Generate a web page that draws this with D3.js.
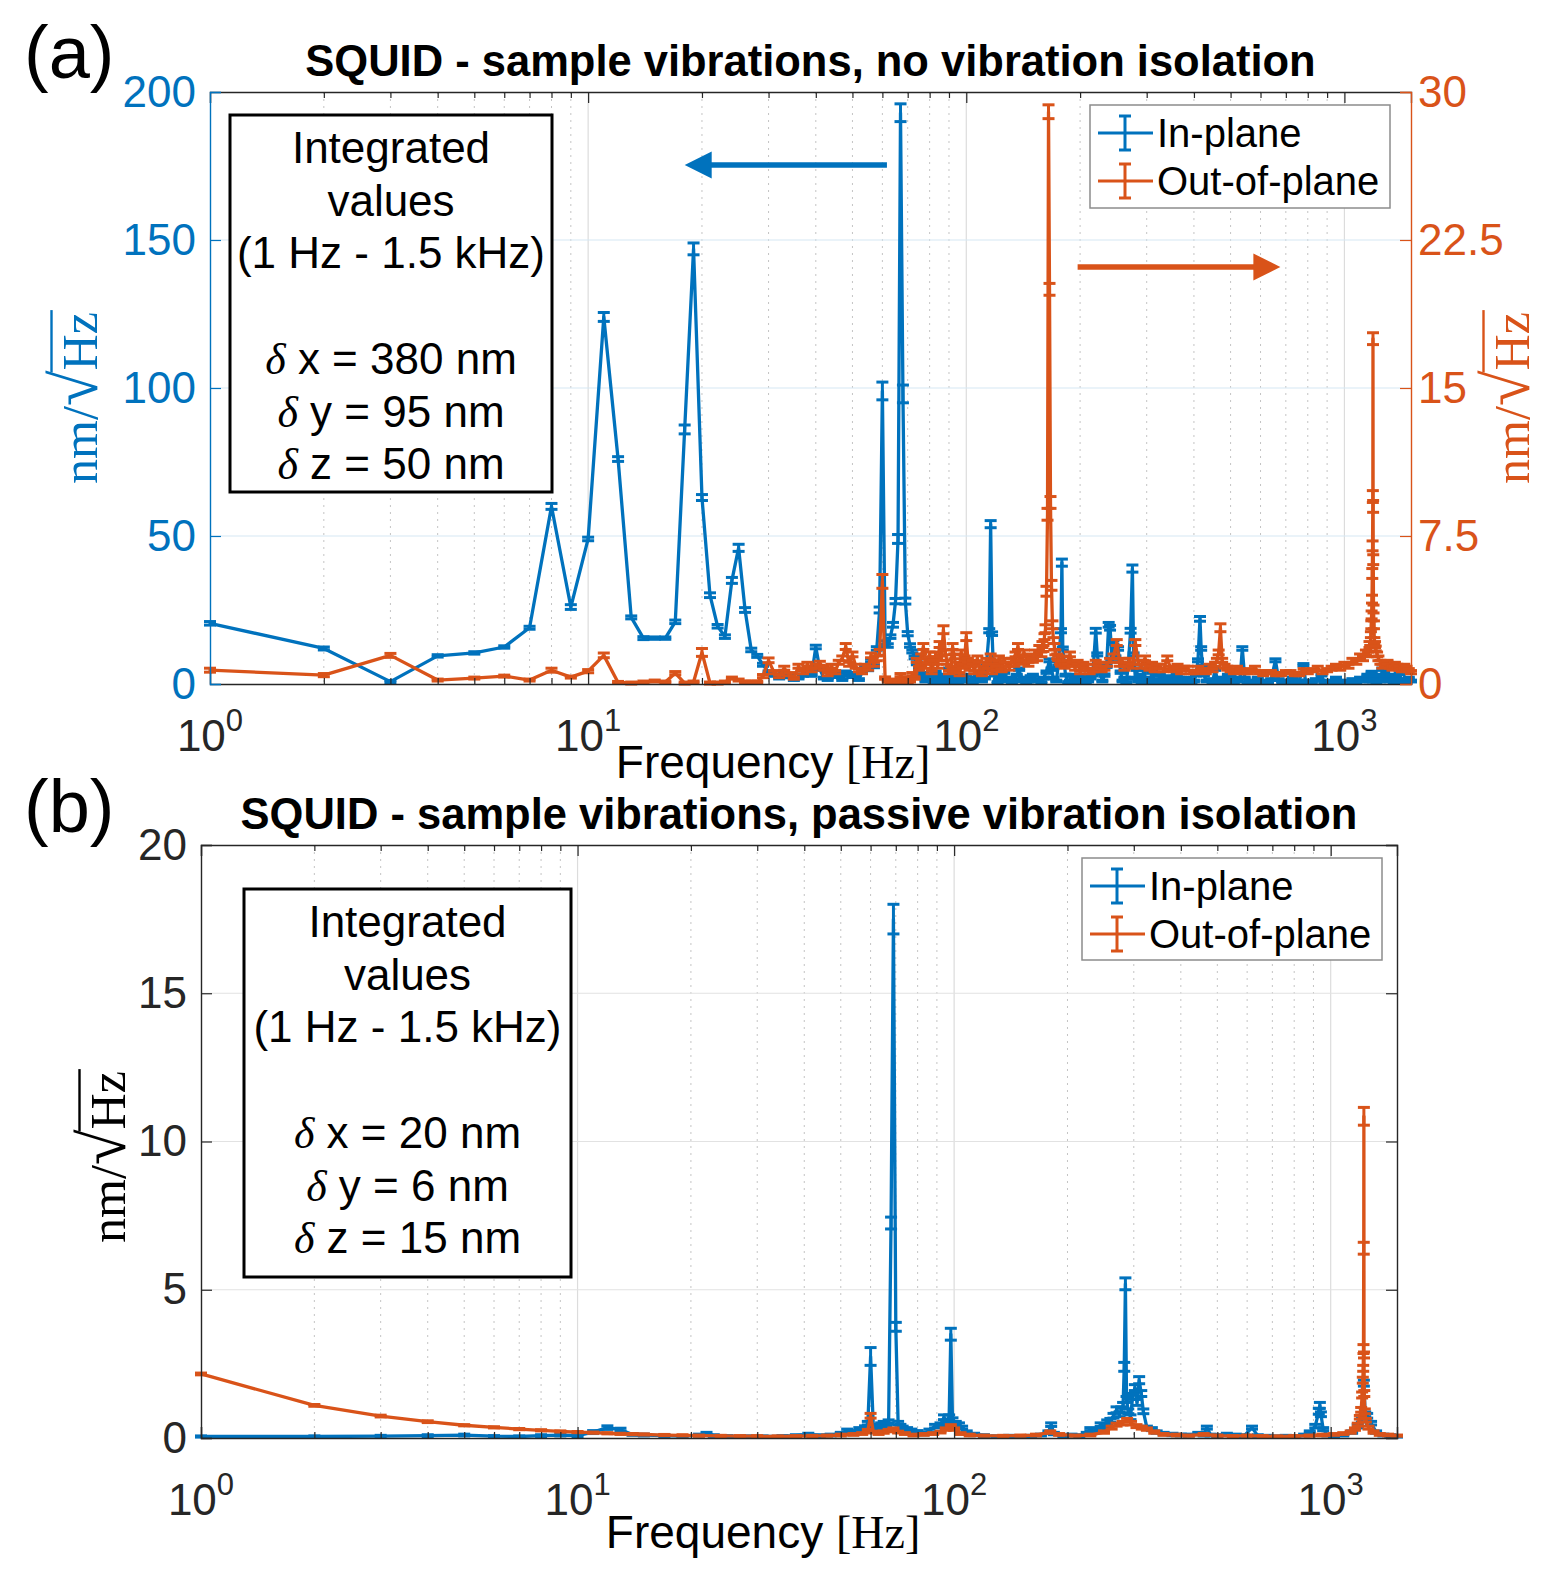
<!DOCTYPE html>
<html>
<head>
<meta charset="utf-8">
<script src="https://cdn.jsdelivr.net/npm/d3@7"></script>
<style>
  body { margin: 0; background: #fff; }
</style>
</head>
<body>
<svg id="chart" width="1555" height="1576"></svg>
<script>
// ---- data: [frequency Hz, amplitude, error] ----

// (a) no vibration isolation, in-plane (left axis, 0-200)
const inPlaneA = [
  [1,20.5,0.6],[2,12,0.5],[3,0.8,0.4],[4,9.5,0.4],[5,10.5,0.4],[6,12.5,0.4],[7,19,0.5],[8,60,1],[9,26,0.8],
  [10,49,0.6],[11,124,1.5],[12,76,0.8],[13,22.5,0.5],[14,15.5,0.5],[15,15.5,0.4],[16,15.5,0.4],[17,21,0.6],
  [18,86,1.5],[19,147,2],[20,63,1],[21,30,0.8],[22,19.5,0.6],[23,16,0.6],[24,35,1],[25,46,1.2],[26,25,0.8],
  [27,11.5,0.6],[28,9.5,0.5],[29,6.5,0.5],[30,4,0.4],[31,3,0.4],[32,2,0.3],[33,3.5,0.4],[34,2.5,0.4],
  [35,1.5,0.3],[36,2,0.3],[37,3,0.4],[38,4.5,0.5],[39,3,0.4],[40,12.5,0.6],[41,5,0.4],[42,2,0.3],
  [43,1.5,0.3],[44,3,0.3],[45,4,0.4],[46,2.5,0.3],[47,1.5,0.3],[48,4,0.4],[49,3,0.3],[50,2.5,0.3],
  [51,3.5,0.4],[52,1.5,0.3],[53,4,0.4],[54,5.5,0.5],[55,5,0.5],[56,8,0.5],[57,6,0.5],[58,12,0.6],
  [59,25,1],[60,99,3],[61,14,0.6],[62,13,0.6],[63,16,0.6],[64,20,0.8],[65,28,0.9],[66,49,1.5],
  [67,193,3],[68,98,3],[69,28,1],[70,17,0.7],[71,13,0.6],[72,11,0.5],[73,9,0.5],[74,7,0.5],[75,5,0.4],
  [76,2.5,0.3],[77,3.5,0.4],[78,1,0.3],[79,2,0.3],[80,3,0.3],[81,1.5,0.3],[82,0.5,0.3],[83,4,0.4],
  [84,1,0.3],[85,2.5,0.3],[86,0.5,0.3],[87,3,0.3],[88,1.5,0.3],[89,1,0.3],[90,5,0.4],[91,2,0.3],
  [92,0.5,0.3],[93,2,0.3],[94,3,0.3],[95,0.5,0.3],[96,1,0.3],[98,2,0.3],[100,3,0.3],[101,1,0.3],
  [103,1.5,0.3],[104,0.5,0.3],[106,2,0.3],[108,3,0.3],[110,1,0.3],[112,2,0.3],[113,6,0.4],[115,18,0.7],
  [116,54,1.2],[117,17,0.6],[118,5,0.4],[119,3,0.3],[121,0.5,0.3],[122,1.5,0.3],[124,2.5,0.3],[126,4,0.4],
  [128,1,0.3],[130,2,0.3],[132,0.5,0.3],[134,1.5,0.3],[136,3,0.3],[138,5,0.4],[140,1,0.3],[142,2,0.3],
  [144,0.5,0.3],[146,1,0.3],[148,2.5,0.3],[150,3,0.3],[152,1,0.3],[155,1.5,0.3],[158,0.5,0.3],[160,2,0.3],
  [163,4,0.4],[166,8,0.5],[168,5,0.4],[170,2,0.3],[173,1,0.3],
  [175,6,0.4],[178,18,0.7],[179,41,1.2],[180,12,0.5],[183,3,0.3],[186,0.5,0.3],[188,1,0.3],[190,3,0.3],
  [193,2.5,0.3],[196,0.5,0.3],[198,1,0.3],[201,3,0.3],
  [204,2,0.3],[207,0.5,0.3],[210,1,0.3],[213,2,0.3],[216,3,0.3],[220,18,0.8],[222,10,0.5],[226,4,0.4],
  [229,1,0.3],[232,3,0.4],[235,6,0.4],[238,20,0.8],
  [240,19,0.8],[243,8,0.5],[245,14,0.6],[248,9,0.5],[252,12,0.6],[256,4,0.4],[259,1,0.3],[262,2,0.3],
  [265,0.5,0.3],[268,6,0.4],[272,18,0.8],
  [275,39,1.2],[277,10,0.5],[280,2,0.3],[282,5,0.4],[285,1,0.3],[288,3,0.3],[291,0.5,0.3],[295,5,0.4],
  [298,1,0.3],[302,2,0.3],[306,0.5,0.3],[310,4,0.4],[314,1,0.3],[318,1.5,0.3],[321,0.5,0.3],
  [325,3,0.3],[330,0.5,0.3],[335,1,0.3],[340,2,0.3],[345,2.5,0.3],[350,0.5,0.3],[355,1,0.3],[360,3,0.3],
  [365,2,0.3],[370,0.5,0.3],[375,1,0.3],[382,2,0.3],[388,1.5,0.3],[394,0.5,0.3],[400,1,0.3],
  [405,3,0.3],[410,8,0.5],[415,22,0.8],[418,12,0.6],[421,6,0.4],[425,3,0.3],[432,1,0.3],[440,1.5,0.3],
  [448,0.5,0.3],[455,5,0.4],[462,1,0.3],[470,2,0.3],[478,0.5,0.3],[485,1,0.3],[492,3,0.3],
  [500,2.5,0.3],[510,0.5,0.3],[520,1,0.3],[530,2,0.3],[537,12,0.6],[545,2,0.3],[555,0.5,0.3],[565,1,0.3],
  [578,0.5,0.3],[590,2,0.3],[602,0.5,0.3],[615,1,0.3],[628,0.5,0.3],[640,1.5,0.3],
  [657,8,0.5],[670,1.5,0.3],[685,0.5,0.3],[700,1,0.3],[715,0.5,0.3],[730,2,0.3],[745,0.5,0.3],[760,1,0.3],
  [779,6.5,0.4],[790,0.5,0.3],[800,1,0.3],[820,0.5,0.3],[840,1.5,0.3],
  [870,3,0.3],[885,0.5,0.3],[900,1,0.3],[925,0.5,0.3],[950,2,0.3],[975,0.5,0.3],[1000,1,0.3],
  [1025,0.5,0.3],[1050,1.5,0.3],[1075,0.5,0.3],[1100,2,0.3],[1125,1,0.3],[1150,3,0.3],[1165,1,0.3],
  [1180,4,0.3],[1190,1,0.3],[1200,2,0.3],[1215,0.5,0.3],[1230,3,0.3],[1245,1,0.3],[1260,5,0.4],
  [1280,2,0.3],[1300,7,0.4],[1315,1,0.3],[1330,3,0.3],[1350,0.5,0.3],[1370,2,0.3],[1385,0.5,0.3],
  [1400,3.5,0.3],[1420,0.5,0.3],[1440,1.5,0.3],[1460,0.5,0.3],[1480,2,0.3],[1500,1,0.3]
];

// (a) no vibration isolation, out-of-plane (right axis, 0-30)
const outPlaneA = [
  [1,0.7,0.1],[2,0.45,0.08],[3,1.45,0.1],[4,0.2,0.05],[5,0.3,0.05],[6,0.4,0.05],[7,0.2,0.05],[8,0.7,0.1],
  [9,0.35,0.05],[10,0.65,0.08],[11,1.45,0.12],[12,0.08,0.05],[13,0.05,0.05],[14,0.1,0.05],[15,0.15,0.05],
  [16,0.1,0.05],[17,0.55,0.08],[18,0.05,0.05],[19,0.1,0.05],[20,1.6,0.2],[21,0.05,0.05],[22,0.05,0.05],
  [23,0.1,0.05],[24,0.3,0.05],[25,0.2,0.05],[26,0.1,0.05],[27,0.1,0.05],[28,0.1,0.05],[29,0.4,0.08],
  [30,1.2,0.12],[31,0.6,0.08],[32,0.4,0.08],[33,0.8,0.1],[34,0.5,0.08],[35,0.3,0.06],[36,0.9,0.1],
  [37,0.6,0.08],[38,1.0,0.1],[39,0.7,0.08],[40,0.9,0.1],[41,1.05,0.1],[42,0.8,0.1],[43,0.5,0.08],
  [44,0.9,0.1],[45,0.6,0.08],[46,1.1,0.1],[47,1.3,0.12],[48,1.9,0.15],[49,1.0,0.1],[50,1.5,0.12],
  [51,0.9,0.1],[52,0.7,0.08],[53,0.6,0.08],[54,0.9,0.1],[55,0.8,0.1],[56,1.45,0.12],[57,1.0,0.1],
  [58,1.3,0.12],[59,1.6,0.15],[60,5.2,0.35],[61,0.3,0.06],[62,0.15,0.05],[63,0.1,0.05],[64,0.15,0.05],
  [65,0.2,0.05],[66,0.1,0.05],[67,0.45,0.08],[68,0.3,0.05],[69,0.2,0.05],[70,0.1,0.05],[71,0.15,0.05],
  [72,0.5,0.08],[73,0.3,0.06],[74,1.2,0.1],[75,0.8,0.1],[76,1.4,0.12],[77,1.9,0.15],[78,0.9,0.1],
  [79,1.2,0.12],[80,1.5,0.12],[81,0.6,0.08],[82,1.1,0.1],[83,1.5,0.12],[84,0.9,0.1],[85,2.0,0.15],
  [86,1.3,0.12],[87,2.75,0.2],[88,1.6,0.12],[89,1.1,0.1],[90,0.6,0.08],[91,0.8,0.1],[92,1.9,0.15],
  [93,1.4,0.12],[94,0.7,0.08],[95,1.0,0.1],[96,0.5,0.08],[97,1.6,0.12],[98,0.9,0.1],[99,1.3,0.12],
  [100,2.4,0.2],[101,1.2,0.1],[102,0.8,0.1],[104,1.1,0.1],[105,0.6,0.08],[107,1.3,0.12],[108,1.0,0.1],
  [110,0.5,0.08],[111,0.7,0.08],[113,1.2,0.1],[114,0.9,0.1],[116,1.4,0.12],[117,0.6,0.08],[119,1.1,0.1],
  [120,0.8,0.1],[122,1.3,0.12],[124,0.7,0.08],[126,1.2,0.1],[128,1.0,0.1],[130,0.8,0.1],[132,1.2,0.1],
  [134,1.0,0.1],[135,1.5,0.12],[137,1.9,0.15],[138,1.3,0.12],[140,1.1,0.1],[142,1.6,0.12],[144,1.3,0.12],
  [146,1.0,0.1],[148,1.4,0.12],[150,1.2,0.1],[152,1.6,0.12],[154,1.3,0.12],[156,1.8,0.15],[158,1.5,0.12],
  [159,2.0,0.15],[160,1.8,0.15],[161,2.4,0.15],[162,2.8,0.2],[163,4.7,0.25],[164,8.6,0.3],[165,29,0.35],
  [166,20,0.3],[167,9.2,0.3],[168,5.0,0.25],[169,3.0,0.2],[170,2.2,0.15],[171,1.9,0.15],[172,1.6,0.12],
  [174,1.4,0.12],[175,1.3,0.12],[177,1.1,0.1],[178,1.0,0.1],[180,1.3,0.12],[182,0.9,0.1],[185,1.1,0.1],
  [188,1.5,0.12],[191,1.0,0.1],[194,0.8,0.1],[197,1.1,0.1],[200,0.6,0.08],[204,1.0,0.1],[208,0.9,0.1],
  [212,0.6,0.08],[216,0.7,0.08],[220,1.1,0.1],[224,1.0,0.1],[228,0.7,0.08],[232,0.8,0.1],[236,1.0,0.1],
  [240,1.2,0.1],[245,1.4,0.12],[250,2.1,0.15],[255,1.0,0.1],[258,1.2,0.1],[262,0.8,0.1],[266,1.0,0.1],
  [270,1.2,0.1],[275,0.9,0.1],[280,2.1,0.15],[285,1.1,0.1],[290,0.9,0.1],[293,1.1,0.1],[297,1.3,0.12],
  [301,0.9,0.1],[305,0.8,0.1],[310,1.0,0.1],[315,0.7,0.08],[320,0.9,0.1],[325,0.9,0.1],[332,0.7,0.08],
  [340,1.3,0.12],[347,0.8,0.1],[355,0.7,0.08],[362,0.9,0.1],[370,0.6,0.08],[377,0.8,0.1],[385,0.8,0.1],
  [392,0.6,0.08],[400,0.6,0.08],[410,0.8,0.1],[420,0.7,0.08],[430,0.6,0.08],[440,0.9,0.1],[448,0.7,0.08],
  [455,1.0,0.1],[460,1.2,0.1],[465,1.6,0.12],[470,2.85,0.2],[475,1.2,0.1],[482,0.9,0.1],[490,0.8,0.1],
  [500,0.7,0.08],[510,0.6,0.08],[520,0.8,0.1],[530,0.7,0.08],[542,0.6,0.08],[555,0.6,0.08],[567,0.7,0.08],
  [580,0.8,0.1],[595,0.6,0.08],[610,0.5,0.08],[625,0.6,0.08],[640,0.6,0.08],[660,0.5,0.08],[680,0.5,0.08],
  [700,0.6,0.08],[720,0.6,0.08],[740,0.5,0.08],[760,0.5,0.08],[780,0.7,0.08],[800,0.6,0.08],[825,0.7,0.08],
  [850,0.8,0.1],[875,0.6,0.08],[900,0.7,0.08],[925,0.8,0.1],[950,0.9,0.1],[975,0.8,0.1],[1000,1.0,0.1],
  [1025,0.9,0.1],[1050,1.2,0.1],[1075,1.1,0.1],[1100,1.4,0.12],[1120,1.3,0.12],[1140,1.6,0.12],
  [1155,1.5,0.12],[1165,2.0,0.15],[1170,1.8,0.15],[1175,2.5,0.15],[1178,3.0,0.2],[1180,3.5,0.2],
  [1183,4.3,0.2],[1185,5.6,0.25],[1187,7.0,0.25],[1189,9.5,0.3],[1190,17.5,0.3],[1191,9.0,0.3],
  [1192,6.3,0.25],[1194,3.8,0.2],[1197,3.0,0.2],[1200,2.2,0.15],[1205,2.0,0.15],[1210,1.8,0.12],
  [1220,1.5,0.12],[1230,1.3,0.12],[1245,1.1,0.1],[1260,0.9,0.1],[1280,1.0,0.1],[1300,1.1,0.1],
  [1320,0.9,0.1],[1340,0.8,0.1],[1360,1.0,0.1],[1380,0.9,0.1],[1400,0.8,0.1],[1420,0.7,0.08],
  [1440,0.9,0.1],[1460,0.8,0.1],[1480,0.7,0.08],[1500,0.6,0.08]
];

// (b) passive vibration isolation, in-plane (0-20)
const inPlaneB = [
  [1,0.05,0.02],[2,0.05,0.02],[3,0.06,0.03],[4,0.08,0.03],[5,0.1,0.03],[6,0.06,0.02],[7,0.05,0.02],
  [8,0.08,0.03],[9,0.1,0.03],[10,0.08,0.03],[11,0.2,0.05],[12,0.35,0.06],[13,0.28,0.05],[14,0.12,0.03],
  [15,0.1,0.03],[17,0.08,0.03],[19,0.06,0.02],[21,0.1,0.03],[22,0.15,0.04],[23,0.08,0.03],[25,0.06,0.02],
  [28,0.05,0.02],[31,0.05,0.02],[35,0.06,0.02],[38,0.08,0.03],[41,0.12,0.04],[44,0.08,0.03],[47,0.1,0.03],
  [50,0.15,0.04],[52,0.25,0.05],[54,0.2,0.05],[56,0.3,0.05],[58,0.35,0.06],[59,0.5,0.06],[60,2.75,0.3],
  [61,0.4,0.06],[62,0.3,0.05],[63,0.35,0.06],[64,0.45,0.06],[65,0.5,0.06],[66,0.45,0.06],[67,0.55,0.06],
  [68,7.25,0.2],[69,17.5,0.5],[70,3.75,0.15],[71,0.5,0.06],[72,0.4,0.06],[73,0.35,0.05],[75,0.3,0.05],
  [77,0.25,0.05],[80,0.2,0.05],[83,0.15,0.04],[86,0.25,0.05],[89,0.4,0.06],[92,0.45,0.06],[94,0.7,0.08],
  [96,0.5,0.06],[97,0.7,0.08],[98,3.5,0.2],[99,0.6,0.08],[101,0.5,0.06],[103,0.45,0.06],[105,0.35,0.05],
  [108,0.2,0.04],[113,0.12,0.04],[120,0.08,0.03],[130,0.05,0.02],[140,0.06,0.03],[150,0.05,0.02],
  [160,0.06,0.03],[170,0.1,0.03],[178,0.2,0.04],[181,0.45,0.06],[184,0.15,0.04],[195,0.06,0.03],
  [205,0.1,0.03],[215,0.08,0.03],[225,0.15,0.04],[230,0.3,0.05],[235,0.2,0.04],[245,0.45,0.06],
  [250,0.3,0.05],[255,0.55,0.06],[260,0.6,0.06],[265,0.75,0.08],[270,0.95,0.1],[275,0.8,0.08],
  [278,0.95,0.1],[281,1.1,0.1],[283,2.4,0.15],[285,5.2,0.2],[287,1.3,0.1],[290,0.9,0.08],[294,0.7,0.08],
  [298,1.4,0.1],[302,1.7,0.1],[306,1.2,0.1],[310,1.95,0.12],[314,1.5,0.1],[318,0.9,0.08],[325,0.35,0.05],
  [335,0.3,0.05],[345,0.2,0.04],[360,0.15,0.04],[380,0.12,0.04],[400,0.1,0.03],[420,0.1,0.03],
  [445,0.15,0.04],[460,0.1,0.03],[469,0.35,0.05],[480,0.1,0.03],[500,0.08,0.03],[530,0.12,0.04],
  [560,0.1,0.03],[590,0.08,0.03],[618,0.35,0.05],[640,0.08,0.03],[680,0.06,0.03],[720,0.05,0.02],
  [760,0.06,0.03],[800,0.05,0.02],[850,0.1,0.03],[880,0.2,0.04],[910,0.4,0.06],[930,0.9,0.1],
  [936,1.1,0.1],[942,0.8,0.08],[955,0.3,0.05],[980,0.1,0.03],[1020,0.08,0.03],[1080,0.1,0.03],
  [1140,0.2,0.04],[1180,0.4,0.06],[1210,0.6,0.06],[1225,1.85,0.1],[1235,0.8,0.08],[1250,0.75,0.08],
  [1280,0.5,0.06],[1320,0.2,0.04],[1380,0.1,0.03],[1440,0.08,0.03],[1500,0.05,0.02]
];

// (b) passive vibration isolation, out-of-plane (0-20)
const outPlaneB = [
  [1,2.16,0.03],[2,1.1,0.03],[3,0.74,0.03],[4,0.55,0.03],[5,0.43,0.02],[6,0.36,0.02],[7,0.3,0.02],
  [8,0.26,0.02],[9,0.22,0.02],[10,0.2,0.02],[11,0.18,0.02],[12,0.16,0.02],[13,0.14,0.02],[14,0.13,0.02],
  [15,0.12,0.02],[17,0.1,0.02],[19,0.09,0.02],[21,0.08,0.02],[24,0.07,0.02],[27,0.06,0.02],[30,0.06,0.02],
  [34,0.05,0.02],[38,0.06,0.02],[42,0.07,0.02],[46,0.08,0.02],[50,0.1,0.03],[54,0.12,0.03],[57,0.15,0.03],
  [59,0.25,0.04],[60,0.75,0.08],[61,0.2,0.03],[63,0.15,0.03],[65,0.2,0.04],[67,0.25,0.04],[69,0.3,0.04],
  [71,0.2,0.03],[74,0.15,0.03],[78,0.1,0.03],[83,0.12,0.03],[88,0.15,0.03],[92,0.2,0.03],[95,0.3,0.04],
  [98,0.4,0.05],[100,0.3,0.04],[104,0.15,0.03],[110,0.1,0.03],[120,0.08,0.02],[135,0.07,0.02],
  [150,0.08,0.02],[165,0.1,0.03],[180,0.2,0.04],[190,0.12,0.03],[210,0.08,0.02],[230,0.1,0.03],
  [250,0.2,0.04],[262,0.35,0.05],[270,0.45,0.05],[280,0.5,0.06],[288,0.6,0.06],[295,0.5,0.06],
  [305,0.4,0.05],[315,0.35,0.05],[325,0.3,0.04],[340,0.2,0.04],[360,0.12,0.03],[390,0.1,0.03],
  [420,0.08,0.02],[460,0.12,0.03],[500,0.08,0.02],[550,0.06,0.02],[600,0.08,0.02],[660,0.06,0.02],
  [720,0.05,0.02],[800,0.06,0.02],[880,0.08,0.02],[950,0.1,0.03],[1020,0.12,0.03],[1080,0.15,0.03],
  [1130,0.2,0.04],[1160,0.3,0.04],[1180,0.45,0.05],[1195,0.7,0.06],[1205,0.95,0.08],[1212,1.45,0.1],
  [1217,1.95,0.1],[1220,2.35,0.1],[1222,3.0,0.15],[1224,6.4,0.2],[1225,10.85,0.3],[1226,2.8,0.1],
  [1228,1.5,0.1],[1232,0.9,0.08],[1240,0.6,0.06],[1260,0.35,0.05],[1300,0.2,0.04],[1350,0.12,0.03],
  [1420,0.1,0.03],[1500,0.08,0.02]
];

const freqDomain = [1, 1500];
const yTicksA = [0, 50, 100, 150, 200];
const y2TicksA = [0, 7.5, 15, 22.5, 30];
const yTicksB = [0, 5, 10, 15, 20];
const legendLabels = ["In-plane", "Out-of-plane"];
const titleA = "SQUID - sample vibrations, no vibration isolation";
const titleB = "SQUID - sample vibrations, passive vibration isolation";
const noteA = ["Integrated", "values", "(1 Hz - 1.5 kHz)", "", "δ x = 380 nm", "δ y = 95 nm", "δ z = 50 nm"];
const noteB = ["Integrated", "values", "(1 Hz - 1.5 kHz)", "", "δ x = 20 nm", "δ y = 6 nm", "δ z = 15 nm"];

const BLUE = "#0072BD";
const ORANGE = "#D95319";
const AX = "#262626";
const SANS = "'Liberation Sans', Arial, Helvetica, sans-serif";
const SERIF = "'Liberation Serif', 'DejaVu Serif', serif";
const TICK_FONT = 44;

const svg = d3.select("#chart");

function drawUnitLabel(g, cx, cy, color, size)
{
    // nm/sqrt(Hz), rotated, reading bottom to top
    const lab = g.append("g").attr("transform", `translate(${cx},${cy}) rotate(-90)`);
    const t = lab.append("text")
        .attr("font-family", SERIF)
        .attr("font-size", size)
        .attr("fill", color);
    const a = t.append("tspan").text("nm/");
    const r = t.append("tspan").attr("font-size", size * 1.3).text("√");
    const h = t.append("tspan").text("Hz");
    const wa = a.node().getComputedTextLength();
    const wr = r.node().getComputedTextLength();
    const wh = h.node().getComputedTextLength();
    const total = wa + wr + wh;
    const base = size * 0.33;
    t.attr("x", -total / 2).attr("y", base);
    lab.append("line")
        .attr("x1", -total / 2 + wa + wr - 2)
        .attr("x2", total / 2 + 2)
        .attr("y1", base - size * 0.9)
        .attr("y2", base - size * 0.9)
        .attr("stroke", color)
        .attr("stroke-width", 2.4);
}

function drawPanel(p)
{
    const g = svg.append("g");

    const x = d3.scaleLog().domain(freqDomain).range([p.left, p.right]);
    const y = d3.scaleLinear().domain([0, p.yTicks[p.yTicks.length - 1]]).range([p.bottom, p.top]);
    const y2 = p.y2Ticks
        ? d3.scaleLinear().domain([0, p.y2Ticks[p.y2Ticks.length - 1]]).range([p.bottom, p.top])
        : y;

    const allTicks = x.ticks();
    const isMajor = d => Math.abs(Math.log10(d) - Math.round(Math.log10(d))) < 1e-9;

    // grid
    const grid = g.append("g");
    grid.selectAll("line.minor")
        .data(allTicks.filter(d => !isMajor(d)))
        .join("line")
        .attr("x1", d => x(d)).attr("x2", d => x(d))
        .attr("y1", p.top).attr("y2", p.bottom)
        .attr("stroke", "#c4c4c4")
        .attr("stroke-width", 1)
        .attr("stroke-dasharray", "2,5");
    grid.selectAll("line.major")
        .data(allTicks.filter(d => isMajor(d) && d > 1))
        .join("line")
        .attr("x1", d => x(d)).attr("x2", d => x(d))
        .attr("y1", p.top).attr("y2", p.bottom)
        .attr("stroke", "#dcdcdc")
        .attr("stroke-width", 1.2);
    grid.selectAll("line.h")
        .data(p.yTicks.slice(1, -1))
        .join("line")
        .attr("x1", p.left).attr("x2", p.right)
        .attr("y1", d => y(d)).attr("y2", d => y(d))
        .attr("stroke", p.hGridColor)
        .attr("stroke-width", 1.2);

    // series
    const series = [
        { data: p.inPlane, color: BLUE, scale: y },
        { data: p.outPlane, color: ORANGE, scale: y2 }
    ];
    const capW = 6;
    series.forEach(s =>
    {
        const sg = g.append("g");
        sg.append("path")
            .datum(s.data)
            .attr("fill", "none")
            .attr("stroke", s.color)
            .attr("stroke-width", 3.3)
            .attr("stroke-linejoin", "round")
            .attr("d", d3.line().x(d => x(d[0])).y(d => s.scale(d[1])));
        const eb = sg.selectAll("g.eb")
            .data(s.data)
            .join("g")
            .attr("stroke", s.color)
            .attr("stroke-width", 3);
        eb.append("line")
            .attr("x1", d => x(d[0])).attr("x2", d => x(d[0]))
            .attr("y1", d => s.scale(Math.max(0, d[1] - d[2])))
            .attr("y2", d => s.scale(d[1] + d[2]));
        eb.append("line")
            .attr("x1", d => x(d[0]) - capW).attr("x2", d => x(d[0]) + capW)
            .attr("y1", d => s.scale(d[1] + d[2])).attr("y2", d => s.scale(d[1] + d[2]));
        eb.append("line")
            .attr("x1", d => x(d[0]) - capW).attr("x2", d => x(d[0]) + capW)
            .attr("y1", d => s.scale(d[1] - d[2])).attr("y2", d => s.scale(d[1] - d[2]));
    });

    // axes
    const tickLen = 11;
    const styleAxis = (sel, color) =>
    {
        sel.select(".domain").attr("stroke", color).attr("stroke-width", 1.4);
        sel.selectAll(".tick line").attr("stroke", color).attr("stroke-width", 1.2);
        sel.selectAll(".tick text")
            .attr("fill", color)
            .attr("font-family", SANS)
            .attr("font-size", TICK_FONT);
    };

    const xb = g.append("g")
        .attr("transform", `translate(0,${p.bottom})`)
        .call(d3.axisBottom(x).tickValues(allTicks).tickFormat("").tickSizeOuter(0).tickSize(-tickLen));
    xb.selectAll(".tick line").attr("y2", d => isMajor(d) ? -tickLen : -tickLen * 0.55);
    styleAxis(xb, AX);

    const xt = g.append("g")
        .attr("transform", `translate(0,${p.top})`)
        .call(d3.axisTop(x).tickValues(allTicks).tickFormat("").tickSizeOuter(0).tickSize(-tickLen));
    xt.selectAll(".tick line").attr("y2", d => isMajor(d) ? tickLen : tickLen * 0.55);
    styleAxis(xt, AX);

    const yl = g.append("g")
        .attr("transform", `translate(${p.left},0)`)
        .call(d3.axisLeft(y).tickValues(p.yTicks).tickFormat(d => d).tickSizeOuter(0).tickSize(-tickLen).tickPadding(14));
    styleAxis(yl, p.leftColor);

    const yr = g.append("g")
        .attr("transform", `translate(${p.right},0)`)
        .call(d3.axisRight(y2).tickValues(p.y2Ticks || p.yTicks).tickFormat(d => d).tickSizeOuter(0).tickSize(-tickLen).tickPadding(7));
    styleAxis(yr, p.rightColor);
    if (!p.y2Ticks)
        yr.selectAll(".tick text").remove();

    // x tick labels 10^n
    g.selectAll("text.xl")
        .data(allTicks.filter(isMajor))
        .join("text")
        .attr("x", d => x(d))
        .attr("y", p.xLabelY)
        .attr("text-anchor", "middle")
        .attr("font-family", SANS)
        .attr("font-size", TICK_FONT)
        .attr("fill", AX)
        .each(function(d)
        {
            const t = d3.select(this);
            t.append("tspan").text("10");
            t.append("tspan").attr("font-size", 31).attr("dy", -20).text(Math.round(Math.log10(d)));
        });

    // x axis title
    const xt2 = g.append("text")
        .attr("x", p.xTitleX)
        .attr("y", p.xTitleY)
        .attr("text-anchor", "middle")
        .attr("font-size", 46)
        .attr("fill", "#000");
    xt2.append("tspan").attr("font-family", SANS).text("Frequency ");
    xt2.append("tspan").attr("font-family", SERIF).text("[Hz]");

    // y axis titles
    drawUnitLabel(g, p.yTitleX, p.yTitleY, p.leftLabelColor, 50);
    if (p.y2Ticks)
        drawUnitLabel(g, p.y2TitleX, p.yTitleY, ORANGE, 50);

    // title
    g.append("text")
        .attr("x", (p.left + p.right) / 2)
        .attr("y", p.titleY)
        .attr("text-anchor", "middle")
        .attr("font-family", SANS)
        .attr("font-weight", "bold")
        .attr("font-size", 43.5)
        .attr("fill", "#000")
        .text(p.title);

    // panel letter
    g.append("text")
        .attr("x", 24)
        .attr("y", p.letterY)
        .attr("font-family", SANS)
        .attr("font-size", 74)
        .attr("fill", "#000")
        .text(p.letter);

    // annotation box
    const nb = p.noteBox;
    g.append("rect")
        .attr("x", nb.x).attr("y", nb.y).attr("width", nb.w).attr("height", nb.h)
        .attr("fill", "#fff")
        .attr("stroke", "#000")
        .attr("stroke-width", 3);
    p.note.forEach((line, i) =>
    {
        if (!line)
            return;
        const t = g.append("text")
            .attr("x", nb.x + nb.w / 2)
            .attr("y", nb.y + 48 + i * 52.7)
            .attr("text-anchor", "middle")
            .attr("font-family", SANS)
            .attr("font-size", 44)
            .attr("fill", "#000");
        if (line.startsWith("δ"))
        {
            t.append("tspan").attr("font-family", SERIF).attr("font-style", "italic").text("δ");
            t.append("tspan").text(line.slice(1));
        }
        else
            t.text(line);
    });

    // legend
    const lg = p.legend;
    g.append("rect")
        .attr("x", lg.x).attr("y", lg.y).attr("width", lg.w).attr("height", lg.h)
        .attr("fill", "#fff")
        .attr("stroke", "#8c8c8c")
        .attr("stroke-width", 1.5);
    legendLabels.forEach((lab, i) =>
    {
        const cy = lg.y + 28 + i * 48;
        const col = i === 0 ? BLUE : ORANGE;
        const ig = g.append("g").attr("stroke", col).attr("stroke-width", 3);
        ig.append("line").attr("x1", lg.x + 8).attr("x2", lg.x + 63).attr("y1", cy).attr("y2", cy);
        ig.append("line").attr("x1", lg.x + 35).attr("x2", lg.x + 35).attr("y1", cy - 17).attr("y2", cy + 17);
        ig.append("line").attr("x1", lg.x + 29).attr("x2", lg.x + 41).attr("y1", cy - 17).attr("y2", cy - 17);
        ig.append("line").attr("x1", lg.x + 29).attr("x2", lg.x + 41).attr("y1", cy + 17).attr("y2", cy + 17);
        g.append("text")
            .attr("x", lg.x + 67)
            .attr("y", cy + 14)
            .attr("font-family", SANS)
            .attr("font-size", 40)
            .attr("fill", "#000")
            .text(lab);
    });

    return { x, y, y2 };
}

// panel (a)
const pa = drawPanel({
    left: 210, right: 1411, top: 92, bottom: 684,
    yTicks: yTicksA, y2Ticks: y2TicksA,
    leftColor: BLUE, rightColor: ORANGE, leftLabelColor: BLUE,
    hGridColor: "#d6e7f3",
    inPlane: inPlaneA, outPlane: outPlaneA,
    xLabelY: 751, xTitleX: 773, xTitleY: 778,
    yTitleX: 80, y2TitleX: 1512, yTitleY: 398,
    titleY: 76, title: titleA, letter: "(a)", letterY: 78,
    note: noteA, noteBox: { x: 230, y: 115, w: 322, h: 377 },
    legend: { x: 1090, y: 105, w: 300, h: 103 }
});

// direction arrows
function arrow(x1, x2, yy, color)
{
    const dir = Math.sign(x2 - x1);
    svg.append("line")
        .attr("x1", x1).attr("x2", x2 - dir * 24)
        .attr("y1", yy).attr("y2", yy)
        .attr("stroke", color)
        .attr("stroke-width", 5.5);
    svg.append("path")
        .attr("d", `M${x2},${yy} L${x2 - dir * 27},${yy - 13.5} L${x2 - dir * 27},${yy + 13.5} Z`)
        .attr("fill", color);
}
arrow(pa.x(68) - 16, pa.x(18), 165, BLUE);
arrow(pa.x(197), pa.x(677), 267, ORANGE);

// panel (b)
drawPanel({
    left: 201, right: 1397, top: 845, bottom: 1438,
    yTicks: yTicksB, y2Ticks: null,
    leftColor: AX, rightColor: AX, leftLabelColor: "#000",
    hGridColor: "#e2e2e2",
    inPlane: inPlaneB, outPlane: outPlaneB,
    xLabelY: 1515, xTitleX: 763, xTitleY: 1548,
    yTitleX: 108, yTitleY: 1157,
    titleY: 829, title: titleB, letter: "(b)", letterY: 832,
    note: noteB, noteBox: { x: 244, y: 889, w: 327, h: 388 },
    legend: { x: 1082, y: 858, w: 300, h: 102 }
});
</script>
</body>
</html>
